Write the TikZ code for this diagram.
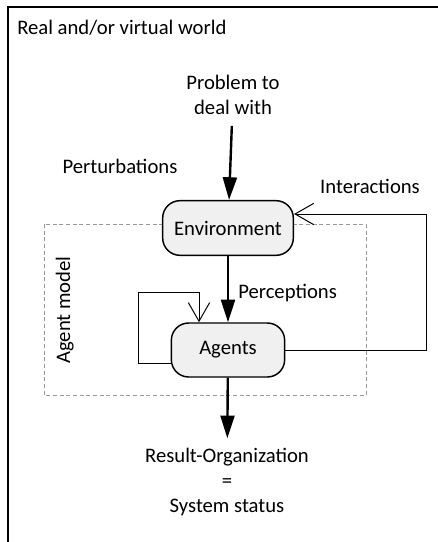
\documentclass[tikz,border=0pt]{standalone}
\usepackage{fontspec}
\setmainfont{Carlito}
\usetikzlibrary{arrows.meta, positioning}

\begin{document}
\begin{tikzpicture}[x=0.75pt, y=-0.75pt, font=\fontsize{15.5}{19}\selectfont,
    stage/.style={rectangle, rounded corners=13pt, draw, line width=1.1pt, fill=gray!12, inner sep=0pt},
    flow/.style={line width=1.8pt, -{Triangle[length=17pt, width=10.5pt]}},
    feedback/.style={line width=0.75pt, -{Straight Barb[length=14pt, width=16pt]}},
    txt/.style={anchor=base, inner sep=0pt}]
    % Page size
    \useasboundingbox (0,0) rectangle (438,542);

    % World frame (open at right and bottom)
    \draw[line width=1.2pt] (438,7) -- (8,7) -- (8,542);
    \node[txt, anchor=base west] (world) at (17,35) {Real and/or virtual world};

    % Agent model frame
    \draw[gray!80, line width=0.6pt, dash pattern=on 3pt off 2pt] (44,224) rectangle (366,395);
    \node[txt, rotate=90] (model) at (70,310) {Agent model};

    % Main blocks
    \node[stage, minimum width=98pt, minimum height=41pt] (env) at (228,228) {Environment};
    \node[stage, minimum width=85pt, minimum height=40.5pt] (agents) at (228,350) {Agents};

    % Texts
    \node[txt, align=center, anchor=center] (problem) at (233,95) {Problem to\\deal with};
    \node[txt] (perturb) at (120,173) {Perturbations};
    \node[txt] (inter) at (370,193) {Interactions};
    \node[txt, anchor=base west] (percep) at (238,298) {Perceptions};
    \node[txt, align=center, anchor=center] (result) at (227,482) {Result-Organization\\=\\System status};

    % Main flow
    \draw[flow, shorten <=8pt] (problem) -- (env);
    \draw[flow] (env) -- (agents);
    \draw[flow, shorten >=7pt] (agents) -- (result);

    % Feedback loops
    \coordinate (selfturn) at (138,292);
    \coordinate (interturn) at (426,214);
    \draw[feedback] ([yshift=-9.75pt]agents.west) -| (selfturn) -| ([xshift=-21.75pt]agents.north);
    \draw[feedback] (agents.east) -| (interturn) -- ([yshift=10.5pt]env.east);
\end{tikzpicture}
\end{document}
